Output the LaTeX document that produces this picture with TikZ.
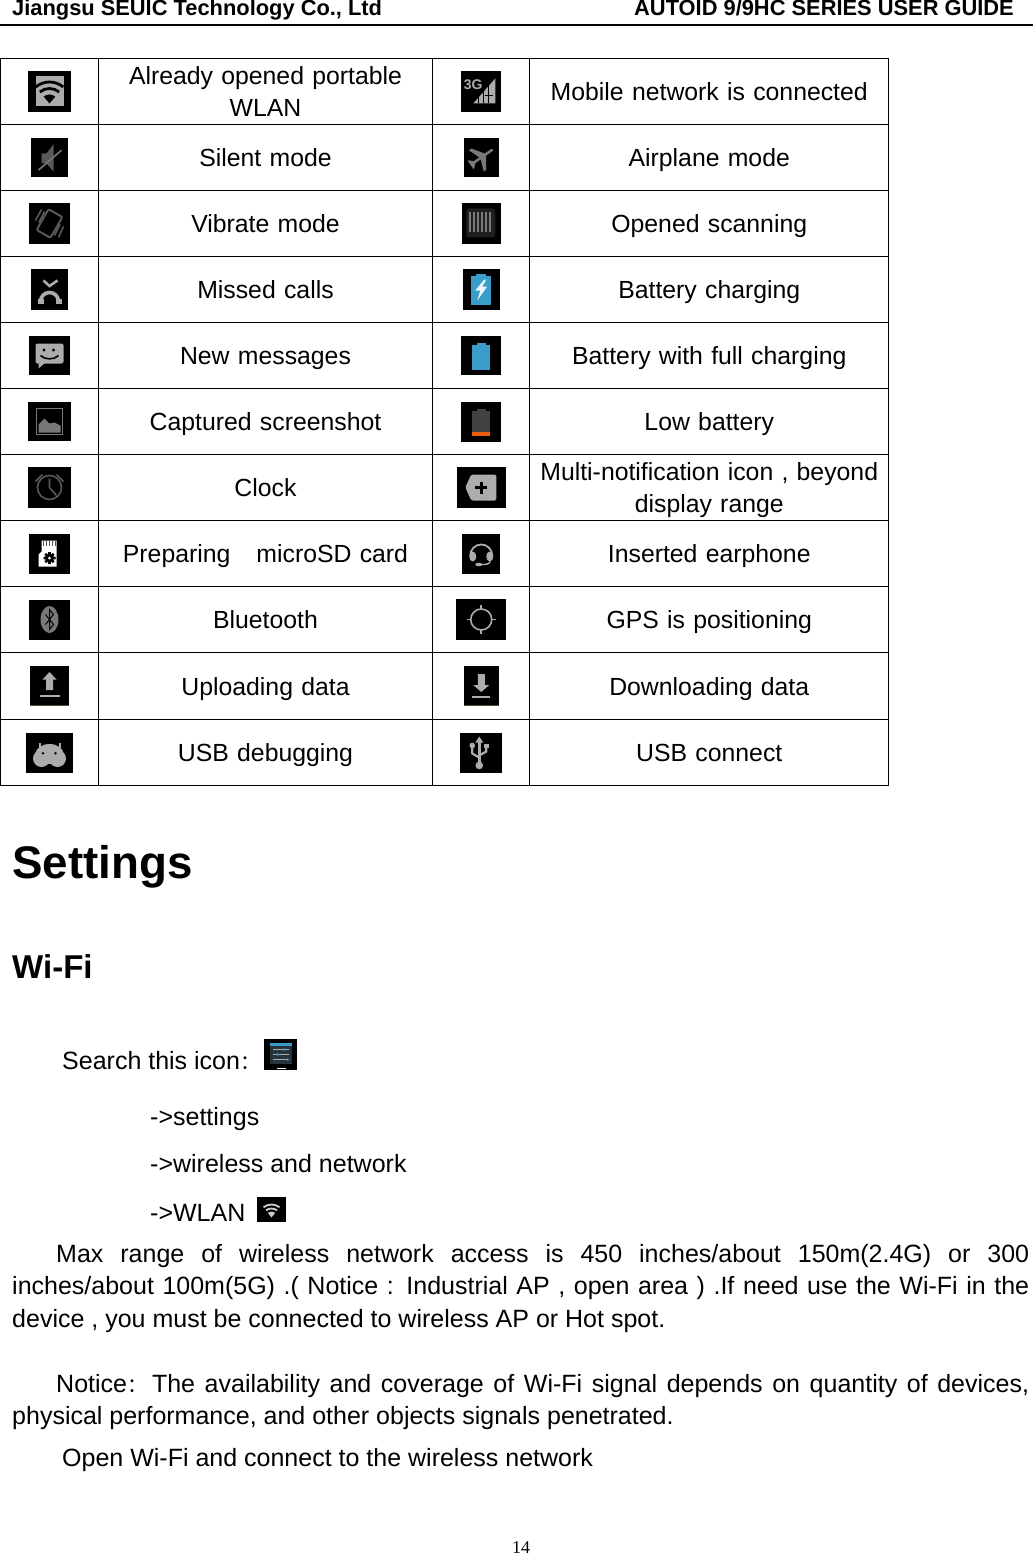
\documentclass[tikz,border=0pt]{standalone}
\usepackage{fontspec}
\setmainfont{Liberation Sans}
\newfontfamily\cjk{Noto Sans CJK SC}
\newfontfamily\pagefont{Liberation Serif}
\usepackage{tikz}
\usetikzlibrary{positioning}
\definecolor{glyph}{RGB}{172,172,172}
\definecolor{glyphmid}{RGB}{120,120,120}
\definecolor{glyphdim}{RGB}{88,88,88}
\definecolor{glyphlow}{RGB}{66,66,66}
\definecolor{batblue}{RGB}{58,156,200}
\definecolor{batorange}{RGB}{232,96,12}
\definecolor{strip}{RGB}{90,80,64}
\definecolor{slate}{RGB}{38,52,62}
\newcommand{\widecolon}{\hbox to 25pt{\cjk\fontsize{20}{20}\selectfont：\hss}}

\begin{document}
\begin{tikzpicture}[
  x=1pt,
  y=-1pt,
  cell/.style = {
    draw,
    line width = 1pt,
    inner sep = 0pt,
    outer sep = 0pt,
    minimum height = 66pt,
    align = center,
    text height = 18pt,
    text depth = 0pt,
    font = \fontsize{24.8}{32}\selectfont,
  },
  icona/.style = {cell,minimum width = 97.5pt},
  labela/.style = {cell,minimum width = 334.5pt,text width = 334.5pt},
  iconb/.style = {cell,minimum width = 97pt},
  labelb/.style = {cell,minimum width = 359pt,text width = 359pt},
  twolines/.style = {text depth = 32pt},
  tallrow/.style = {minimum height = 67pt},
  iconbox/.style = {
    fill = black,
    inner sep = 0pt,
    outer sep = 0pt,
    minimum width = #1,
  },
  icon/.style = {shift = {(#1)},y = 1pt},
  body/.style = {
    anchor = base west,
    inner sep = 0pt,
    font = \fontsize{25}{32}\selectfont,
  },
  head/.style = {
    anchor = base west,
    inner sep = 0pt,
    font = \fontsize{21.85}{24}\selectfont\bfseries,
  },
]

  \useasboundingbox (0,0) rectangle (1033,1554);

  \node[head] (headl) at (12,16) {Jiangsu SEUIC Technology Co., Ltd};
  \node[head] (headr) at (634,16) {AUTOID 9/9HC SERIES USER GUIDE};
  \draw[line width=2pt] (0,25) -- (1033,25);

  \node[icona] (a1) at (49.5,91.5) {};
  \node[labela,twolines] (b1) [right=0pt of a1] {Already opened portable\\WLAN};
  \node[iconb] (c1) [right=0pt of b1] {};
  \node[labelb] (d1) [right=0pt of c1] {Mobile network is connected};

  \node[icona] (a2) [below=0pt of a1] {};
  \node[labela] (b2) [right=0pt of a2] {Silent mode};
  \node[iconb] (c2) [right=0pt of b2] {};
  \node[labelb] (d2) [right=0pt of c2] {Airplane mode};

  \node[icona] (a3) [below=0pt of a2] {};
  \node[labela] (b3) [right=0pt of a3] {Vibrate mode};
  \node[iconb] (c3) [right=0pt of b3] {};
  \node[labelb] (d3) [right=0pt of c3] {Opened scanning};

  \node[icona] (a4) [below=0pt of a3] {};
  \node[labela] (b4) [right=0pt of a4] {Missed calls};
  \node[iconb] (c4) [right=0pt of b4] {};
  \node[labelb] (d4) [right=0pt of c4] {Battery charging};

  \node[icona] (a5) [below=0pt of a4] {};
  \node[labela] (b5) [right=0pt of a5] {New messages};
  \node[iconb] (c5) [right=0pt of b5] {};
  \node[labelb] (d5) [right=0pt of c5] {Battery with full charging};

  \node[icona] (a6) [below=0pt of a5] {};
  \node[labela] (b6) [right=0pt of a6] {Captured screenshot};
  \node[iconb] (c6) [right=0pt of b6] {};
  \node[labelb] (d6) [right=0pt of c6] {Low battery};

  \node[icona] (a7) [below=0pt of a6] {};
  \node[labela] (b7) [right=0pt of a7] {Clock};
  \node[iconb] (c7) [right=0pt of b7] {};
  \node[labelb,twolines] (d7) [right=0pt of c7] {Multi-notification icon , beyond\\display range};

  \node[icona] (a8) [below=0pt of a7] {};
  \node[labela] (b8) [right=0pt of a8] {Preparing\hspace{26pt}microSD card};
  \node[iconb] (c8) [right=0pt of b8] {};
  \node[labelb] (d8) [right=0pt of c8] {Inserted earphone};

  \node[icona] (a9) [below=0pt of a8] {};
  \node[labela] (b9) [right=0pt of a9] {Bluetooth};
  \node[iconb] (c9) [right=0pt of b9] {};
  \node[labelb] (d9) [right=0pt of c9] {GPS is positioning};

  \node[icona,tallrow] (a10) [below=0pt of a9] {};
  \node[labela,tallrow] (b10) [right=0pt of a10] {Uploading data};
  \node[iconb,tallrow] (c10) [right=0pt of b10] {};
  \node[labelb,tallrow] (d10) [right=0pt of c10] {Downloading data};

  \node[icona] (a11) [below=0pt of a10] {};
  \node[labela] (b11) [right=0pt of a11] {USB debugging};
  \node[iconb] (c11) [right=0pt of b11] {};
  \node[labelb] (d11) [right=0pt of c11] {USB connect};

  \node[iconbox=43pt,minimum height=41pt] (wifi) at (a1) {};
  \begin{scope}[icon=wifi]
    \fill[glyph] (-14,-15) rectangle (14,15);
    \draw[black,line width=2.8pt] (0,-12)+(50:21.5) arc (50:130:21.5);
    \draw[black,line width=2.8pt] (0,-12)+(50:15) arc (50:130:15);
    \fill[black] (0,-12) -- +(50:9) arc (50:130:9) -- cycle;
  \end{scope}

  \node[iconbox=37pt,minimum height=39pt] (silent) at (a2) {};
  \begin{scope}[icon=silent]
    \fill[glyphdim] (-8,4) -- (-3,4) -- (4,13) -- (4,-14) -- (-3,-6) -- (-8,-6) -- cycle;
    \draw[glyphmid,line width=1.6pt] (-11,-12.6) -- (12,7.3);
  \end{scope}

  \node[iconbox=41pt,minimum height=41pt] (vibrate) at (a3) {};
  \begin{scope}[icon=vibrate]
    \draw[glyphdim,line width=2pt,rounded corners=2pt,rotate=-30] (-8,-12) rectangle (8,12);
    \draw[glyphdim,line width=1.6pt] (-14,3) -- (-8,14);
    \draw[glyphdim,line width=1.6pt] (-10.5,1) -- (-5,12);
    \draw[glyphdim,line width=1.6pt] (14,-3) -- (9,-14);
    \draw[glyphdim,line width=1.6pt] (10.5,-1) -- (5,-12);
  \end{scope}

  \node[iconbox=37pt,minimum height=41pt] (missed) at (a4) {};
  \begin{scope}[icon=missed]
    \draw[glyph,line width=2.6pt] (-6,9) -- (0,3.5) -- (8,9);
    \draw[glyph,line width=3.6pt] (-9,-12) arc (180:0:9);
    \fill[glyph] (-12,-14.5) rectangle (-6,-9);
    \fill[glyph] (6,-14.5) rectangle (12,-9);
  \end{scope}

  \node[iconbox=41pt,minimum height=39pt] (message) at (a5) {};
  \begin{scope}[icon=message]
    \fill[glyph,rounded corners=2pt] (-14,12) rectangle (14,-8);
    \fill[glyph] (-11,-7) -- (-11,-13) -- (-4,-7) -- cycle;
    \fill[black] (-5.5,5.5) circle (1.7);
    \fill[black] (4,5.5) circle (1.7);
    \draw[black,line width=1.6pt] (-9,0) .. controls (-5,-4.5) and (5,-4.5) .. (9,0);
  \end{scope}

  \node[iconbox=43pt,minimum height=39pt] (shot) at (a6) {};
  \begin{scope}[icon=shot]
    \draw[glyphmid,line width=1.6pt] (-13,13) rectangle (13,-13);
    \fill[glyphmid] (-11,-11) -- (-11,-3) -- (-5,3) -- (0,-2) -- (5,-1) -- (11,-4) -- (11,-11) -- cycle;
  \end{scope}

  \node[iconbox=43pt,minimum height=41pt] (clock) at (a7) {};
  \begin{scope}[icon=clock]
    \draw[glyphdim,line width=1.6pt] (0,0) circle (12);
    \draw[glyphdim,line width=1.6pt] (0,9) -- (0,0) -- (7,-8);
    \draw[glyphdim,line width=1.6pt] (-14,6) -- (-7,13);
    \draw[glyphdim,line width=1.6pt] (14,6) -- (7,13);
  \end{scope}

  \node[iconbox=41pt,minimum height=40pt] (sdcard) at (a8) {};
  \begin{scope}[icon=sdcard]
    \fill[white] (-8,13) -- (7,13) -- (7,-13) -- (-11,-13) -- (-11,-1) -- (-8,2) -- cycle;
    \draw[glyphdim,line width=1pt] (-6,13) -- (-6,8) (-3,13) -- (-3,8) (0,13) -- (0,8) (3,13) -- (3,8) (5.5,13) -- (5.5,8);
    \draw[black,line width=2.8pt] (-6,-4.5) -- (6,-4.5) (0,-10.5) -- (0,1.5) (-4.2,-8.7) -- (4.2,-0.3) (-4.2,-0.3) -- (4.2,-8.7);
    \fill[black] (0,-4.5) circle (4.2);
    \fill[white] (0,-4.5) circle (1.5);
  \end{scope}

  \node[iconbox=41pt,minimum height=40pt] (blue) at (a9) {};
  \begin{scope}[icon=blue]
    \fill[glyphmid] (0,0) ellipse (9 and 13.5);
    \draw[black,line width=1pt] (-4,5) -- (4,-5) -- (0,-10) -- (0,10) -- (4,5) -- (-4,-5);
  \end{scope}

  \node[iconbox=39pt,minimum height=40pt] (upload) at (a10) {};
  \begin{scope}[icon=upload]
    \fill[glyph] (0,14) -- (7,6.5) -- (3.5,6.5) -- (3.5,-4) -- (-3.5,-4) -- (-3.5,6.5) -- (-7,6.5) -- cycle;
    \draw[glyph,line width=1.8pt] (-10,-10) -- (10,-10);
    \draw[strip,line width=1pt] (-19.5,-19.5) -- (19.5,-19.5);
  \end{scope}

  \node[iconbox=47pt,minimum height=40pt] (robot) at (a11) {};
  \begin{scope}[icon=robot]
    \fill[glyph] (-8,-6) circle (8.5);
    \fill[glyph] (8,-6) circle (8.5);
    \fill[glyph] (0,-1.5) ellipse (14 and 10);
    \draw[glyph,line width=2pt] (-10,5) -- (-10,10);
    \draw[glyph,line width=2pt] (10,5) -- (10,10);
    \fill[black] (-6.5,-0.7) circle (1.3);
    \fill[black] (6,-0.7) circle (1.3);
  \end{scope}

  \node[iconbox=40pt,minimum height=41pt] (mobile) at (c1) {};
  \begin{scope}[icon=mobile]
    \node[text=glyph,inner sep=0pt,font=\fontsize{14}{14}\selectfont\bfseries] (threeg) at (-8,7) {3G};
    \fill[glyph] (-8,-12) -- (14,-12) -- (14,13) -- cycle;
    \draw[black,line width=1pt] (-3,-12) -- (-3,-4) (2,-12) -- (2,2) (7,-12) -- (7,7);
    \draw[black,line width=.6pt] (4,-4) -- (12,-4);
  \end{scope}

  \node[iconbox=35pt,minimum height=39pt] (plane) at (c2) {};
  \begin{scope}[icon=plane]
    \begin{scope}[rotate=-55]
      \draw[glyphmid,line width=2.6pt,line cap=round] (0,-12) -- (0,13);
      \fill[glyphmid] (0,6) -- (13,-3) -- (13,-6) -- (0,-1) -- (-13,-6) -- (-13,-3) -- cycle;
      \fill[glyphmid] (0,-7) -- (5,-12) -- (5,-13) -- (-5,-13) -- (-5,-12) -- cycle;
    \end{scope}
  \end{scope}

  \node[iconbox=39pt,minimum height=41pt] (scan) at (c3) {};
  \begin{scope}[icon=scan]
    \fill[black!88,rounded corners=3pt] (-15,15) rectangle (14,-14);
    \draw[glyphmid,line width=2.2pt] (-11,11) -- (-11,-9) (-7,11) -- (-7,-9) (-3,11) -- (-3,-9) (1,11) -- (1,-9) (5,11) -- (5,-9) (9,11) -- (9,-9);
  \end{scope}

  \node[iconbox=37pt,minimum height=41pt] (charge) at (c4) {};
  \begin{scope}[icon=charge]
    \fill[batblue] (-10.5,-15) rectangle (10,14);
    \fill[batblue] (-5,14) rectangle (5,16);
    \fill[white!90!batblue] (3,10) -- (-6,-1) -- (-1,-1) -- (-4,-11) -- (6,3) -- (1,3) -- (5,10) -- cycle;
  \end{scope}

  \node[iconbox=40pt,minimum height=39pt] (full) at (c5) {};
  \begin{scope}[icon=full]
    \fill[batblue] (-9,-14) rectangle (9,11);
    \fill[batblue] (-4.5,11) rectangle (4.5,13);
  \end{scope}

  \node[iconbox=40pt,minimum height=40pt] (low) at (c6) {};
  \begin{scope}[icon=low]
    \fill[glyphlow] (-9,-10) rectangle (9,11);
    \fill[glyphlow] (-4.5,11) rectangle (4.5,13);
    \fill[batorange] (-9,-14.5) rectangle (9,-10);
  \end{scope}

  \node[iconbox=49pt,minimum height=41pt] (more) at (c7) {};
  \begin{scope}[icon=more]
    \fill[glyph,rounded corners=1.5pt] (-16,0) -- (-10,13) -- (15,13) -- (15,-13) -- (-10,-13) -- cycle;
    \draw[black,line width=2.8pt] (-6,0) -- (6,0) (0,-6) -- (0,6);
  \end{scope}

  \node[iconbox=38pt,minimum height=40pt] (phones) at (c8) {};
  \begin{scope}[icon=phones]
    \draw[glyph,line width=1.8pt] (-11,-2) arc (180:0:11);
    \fill[glyph] (-8.5,-3) ellipse (3.5 and 5);
    \fill[glyph] (8.5,-3) ellipse (3.5 and 5);
    \draw[glyph,line width=1.4pt] (9,-8) .. controls (8,-11) and (4,-11) .. (0,-11);
    \fill[glyph] (-2.5,-11) ellipse (3.5 and 1.8);
  \end{scope}

  \node[iconbox=50pt,minimum height=41pt] (gps) at (c9) {};
  \begin{scope}[icon=gps]
    \draw[glyph,line width=1.6pt] (0,0) circle (10.5);
    \draw[glyph,line width=1.6pt] (-14.5,0) -- (-10.5,0) (10.5,0) -- (14.5,0) (0,14.5) -- (0,10.5) (0,-10.5) -- (0,-14.5);
  \end{scope}

  \node[iconbox=35pt,minimum height=40pt] (down) at (c10) {};
  \begin{scope}[icon=down]
    \fill[glyph] (0,-6) -- (8,1) -- (3.5,1) -- (3.5,12) -- (-3.5,12) -- (-3.5,1) -- (-8,1) -- cycle;
    \draw[glyph,line width=1.8pt] (-9,-11) -- (9,-11);
    \draw[strip,line width=1pt] (-17.5,-19.5) -- (17.5,-19.5);
  \end{scope}

  \node[iconbox=42pt,minimum height=40pt] (usb) at (c11) {};
  \begin{scope}[icon=usb]
    \draw[glyph,line width=2.8pt] (-2,-12) -- (-2,12);
    \fill[glyph] (-2,16) -- (-6,10) -- (2,10) -- cycle;
    \fill[glyph] (-2,-13) circle (3.8);
    \draw[glyph,line width=2.2pt] (-2,-5) -- (-9,-1) -- (-9,5);
    \draw[glyph,line width=2.2pt] (-2,-3) -- (5,1) -- (5,5);
    \fill[glyph] (-9,7) circle (2.8);
    \fill[glyph] (2.5,4.5) rectangle (7.5,9);
  \end{scope}

  \node[anchor=base west,inner sep=0pt,font=\fontsize{45.7}{50}\selectfont\bfseries] (settings) at (12,878) {Settings};
  \node[anchor=base west,inner sep=0pt,font=\fontsize{33}{36}\selectfont\bfseries] (wifititle) at (12,978) {Wi-Fi};

  \node[body] (search) at (62,1069) {Search this icon\widecolon};
  \node[iconbox=33pt,minimum height=31pt] (gear) at (280.5,1054.5) {};
  \begin{scope}[icon=gear]
    \fill[slate] (-11,11.5) rectangle (11.5,-9);
    \fill[batblue] (-11,11.5) rectangle (11.5,8.5);
    \draw[glyph,line width=.6pt] (-8,5) -- (8,5) (-8,0) -- (8,0) (-8,-5) -- (8,-5);
    \fill[batblue] (3.5,5) circle (1.4);
    \fill[batblue] (-3,0) circle (1.4);
    \fill[batblue] (7,-5) circle (1.4);
    \draw[white,line width=.6pt] (-4,-14) -- (5,-14);
  \end{scope}

  \node[body] (step1) at (150,1125) {->settings};
  \node[body] (step2) at (150,1172) {->wireless and network};
  \node[body] (step3) at (150,1221) {->WLAN};
  \node[iconbox=29pt,minimum height=25pt] (wlan) at (271.5,1209.5) {};
  \begin{scope}[icon=wlan]
    \draw[white!80!black,line width=1.8pt] (0,-8)+(52:13) arc (52:128:13);
    \draw[white!80!black,line width=1.8pt] (0,-8)+(52:9) arc (52:128:9);
    \fill[white!80!black] (0,-8) -- +(52:6) arc (52:128:6) -- cycle;
  \end{scope}

  \node[body] (max1) at (56,1262) {\hbox to 973pt{Max range of wireless network access is 450 inches/about 150m(2.4G) or 300}};
  \node[body] (max2) at (12,1294) {\hbox to 1017pt{inches/about 100m(5G) .( Notice : Industrial AP , open area ) .If need use the Wi-Fi in the}};
  \node[body] (max3) at (12,1327) {device , you must be connected to wireless AP or Hot spot.};
  \node[body] (note1) at (56,1392) {\hbox to 973pt{Notice\widecolon The availability and coverage of Wi-Fi signal depends on quantity of devices,}};
  \node[body] (note2) at (12,1424) {physical performance, and other objects signals penetrated.};
  \node[body] (open) at (62,1466) {Open Wi-Fi and connect to the wireless network};

  \node[anchor=base,inner sep=0pt,font=\pagefont\fontsize{18}{20}\selectfont] (page) at (521,1553) {14};
\end{tikzpicture}
\end{document}
